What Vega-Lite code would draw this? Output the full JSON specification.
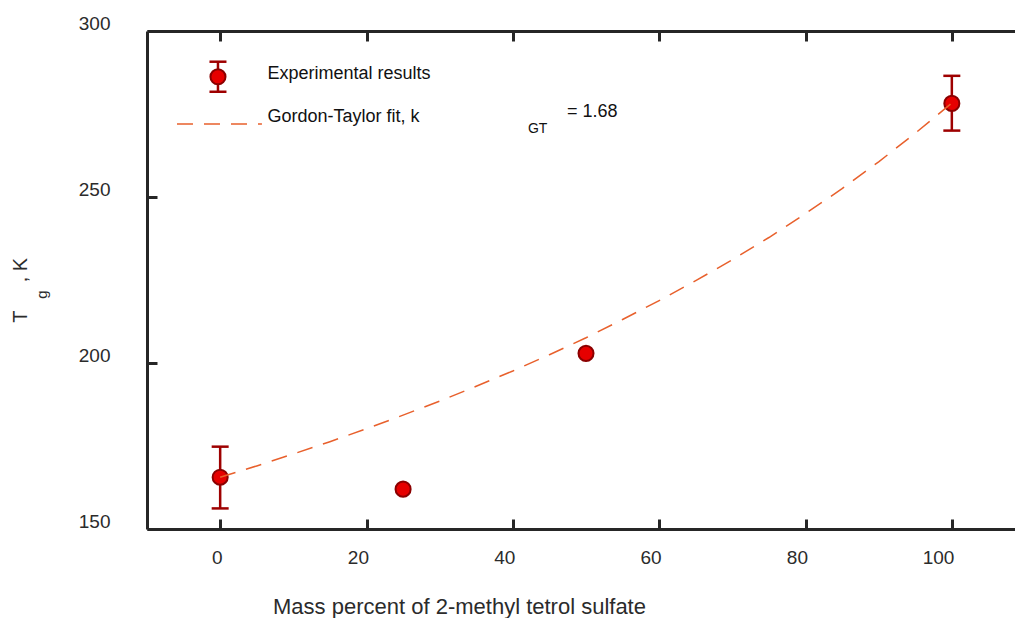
{
  "$schema": "https://vega.github.io/schema/vega-lite/v6.json",
  "width": 878,
  "height": 498,
  "autosize": {"type": "none"},
  "padding": {"left": 147, "top": 31, "right": 0, "bottom": 89},
  "background": "white",
  "config": {"view": {"stroke": null}, "font": "Liberation Sans"},
  "datasets": {
    "points": [
      {"pct": 0, "tg": 165.6, "lo": 156.2, "hi": 174.8},
      {"pct": 25, "tg": 162.0, "lo": null, "hi": null},
      {"pct": 50, "tg": 202.9, "lo": null, "hi": null},
      {"pct": 100, "tg": 278.2, "lo": 270.0, "hi": 286.5}
    ],
    "fit": [
      {"pct": 0, "tg": 165.6}, {"pct": 5, "tg": 169.0}, {"pct": 10, "tg": 172.6},
      {"pct": 15, "tg": 176.3}, {"pct": 20, "tg": 180.2}, {"pct": 25, "tg": 184.3},
      {"pct": 30, "tg": 188.5}, {"pct": 35, "tg": 193.0}, {"pct": 40, "tg": 197.6},
      {"pct": 45, "tg": 202.5}, {"pct": 50, "tg": 207.6}, {"pct": 55, "tg": 213.1},
      {"pct": 60, "tg": 218.8}, {"pct": 65, "tg": 224.8}, {"pct": 70, "tg": 231.1},
      {"pct": 75, "tg": 237.8}, {"pct": 80, "tg": 245.0}, {"pct": 85, "tg": 252.5},
      {"pct": 90, "tg": 260.6}, {"pct": 95, "tg": 269.2}, {"pct": 100, "tg": 278.3}
    ]
  },
  "layer": [
    {
      "data": {"name": "points"},
      "transform": [{"filter": "datum.lo != null"}],
      "mark": {"type": "rule", "color": "#9E0000", "strokeWidth": 2.5},
      "encoding": {
        "x": {"field": "pct", "type": "quantitative", "scale": {"domain": [-10, 110], "nice": false, "zero": false}, "axis": null},
        "y": {"field": "lo", "type": "quantitative", "scale": {"domain": [150, 300], "nice": false, "zero": false}, "axis": null},
        "y2": {"field": "hi"}
      }
    },
    {
      "data": {"name": "points"},
      "transform": [{"filter": "datum.lo != null"}],
      "mark": {"type": "tick", "orient": "horizontal", "color": "#9E0000", "size": 17, "thickness": 2.5, "opacity": 1},
      "encoding": {
        "x": {"field": "pct", "type": "quantitative", "scale": {"domain": [-10, 110], "nice": false, "zero": false}, "axis": null},
        "y": {"field": "lo", "type": "quantitative", "scale": {"domain": [150, 300], "nice": false, "zero": false}, "axis": null}
      }
    },
    {
      "data": {"name": "points"},
      "transform": [{"filter": "datum.lo != null"}],
      "mark": {"type": "tick", "orient": "horizontal", "color": "#9E0000", "size": 17, "thickness": 2.5, "opacity": 1},
      "encoding": {
        "x": {"field": "pct", "type": "quantitative", "scale": {"domain": [-10, 110], "nice": false, "zero": false}, "axis": null},
        "y": {"field": "hi", "type": "quantitative", "scale": {"domain": [150, 300], "nice": false, "zero": false}, "axis": null}
      }
    },
    {
      "data": {"name": "points"},
      "mark": {"type": "circle", "size": 227, "fill": "#E60000", "stroke": "#8B0000", "strokeWidth": 2, "opacity": 1},
      "encoding": {
        "x": {
          "field": "pct", "type": "quantitative",
          "scale": {"domain": [-10, 110], "nice": false, "zero": false},
          "axis": {
            "orient": "bottom", "values": [0, 20, 40, 60, 80, 100], "grid": false,
            "domainColor": "#262626", "domainWidth": 3,
            "tickColor": "#262626", "tickWidth": 3, "tickSize": -10,
            "labelFontSize": 19, "labelColor": "#2b2b2b", "labelPadding": 29.5,
            "labelAlign": "right", "labelOffset": 2, "labelBaseline": "top", "labelFlush": false,
            "title": "Mass percent of 2-methyl tetrol sulfate",
            "titleFontSize": 22, "titleFontWeight": "normal", "titleColor": "#2b2b2b",
            "titleX": 312, "titleY": 84, "titleAlign": "center", "titleBaseline": "alphabetic"
          }
        },
        "y": {
          "field": "tg", "type": "quantitative",
          "scale": {"domain": [150, 300], "nice": false, "zero": false},
          "axis": {
            "orient": "left", "values": [150, 200, 250, 300], "grid": false,
            "domainColor": "#262626", "domainWidth": 3,
            "tickColor": "#262626", "tickWidth": 3, "tickSize": -10,
            "labelFontSize": 19, "labelColor": "#2b2b2b", "labelPadding": 47,
            "labelBaseline": "alphabetic", "labelOffset": -2, "labelFlush": false,
            "title": null
          }
        }
      }
    },
    {
      "data": {"name": "fit"},
      "mark": {"type": "line", "color": "#E8602C", "strokeWidth": 1.5, "strokeDash": [16, 11]},
      "encoding": {
        "x": {
          "field": "pct", "type": "quantitative",
          "scale": {"domain": [-10, 110], "nice": false, "zero": false},
          "axis": {
            "orient": "top", "values": [0, 20, 40, 60, 80, 100], "grid": false, "labels": false,
            "domainColor": "#262626", "domainWidth": 3,
            "tickColor": "#262626", "tickWidth": 3, "tickSize": -10, "title": null
          }
        },
        "y": {
          "field": "tg", "type": "quantitative",
          "scale": {"domain": [150, 300], "nice": false, "zero": false},
          "axis": {
            "orient": "right", "values": [150, 200, 250, 300], "grid": false, "labels": false,
            "domainColor": "#262626", "domainWidth": 3,
            "tickColor": "#262626", "tickWidth": 3, "tickSize": -10, "title": null
          }
        }
      }
    },
    {
      "data": {"values": [{}]},
      "mark": {"type": "rule", "color": "#9E0000", "strokeWidth": 2.5},
      "encoding": {
        "x": {"datum": -0.3, "type": "quantitative", "scale": {"domain": [-10, 110], "nice": false, "zero": false}, "axis": null},
        "y": {"datum": 281.7, "type": "quantitative", "scale": {"domain": [150, 300], "nice": false, "zero": false}, "axis": null},
        "y2": {"datum": 290.75}
      }
    },
    {
      "data": {"values": [{}]},
      "mark": {"type": "tick", "orient": "horizontal", "color": "#9E0000", "size": 17, "thickness": 2.5, "opacity": 1},
      "encoding": {
        "x": {"datum": -0.3, "type": "quantitative", "scale": {"domain": [-10, 110], "nice": false, "zero": false}, "axis": null},
        "y": {"datum": 281.7, "type": "quantitative", "scale": {"domain": [150, 300], "nice": false, "zero": false}, "axis": null}
      }
    },
    {
      "data": {"values": [{}]},
      "mark": {"type": "tick", "orient": "horizontal", "color": "#9E0000", "size": 17, "thickness": 2.5, "opacity": 1},
      "encoding": {
        "x": {"datum": -0.3, "type": "quantitative", "scale": {"domain": [-10, 110], "nice": false, "zero": false}, "axis": null},
        "y": {"datum": 290.75, "type": "quantitative", "scale": {"domain": [150, 300], "nice": false, "zero": false}, "axis": null}
      }
    },
    {
      "data": {"values": [{}]},
      "mark": {"type": "circle", "size": 227, "fill": "#E60000", "stroke": "#8B0000", "strokeWidth": 2, "opacity": 1},
      "encoding": {
        "x": {"datum": -0.3, "type": "quantitative", "scale": {"domain": [-10, 110], "nice": false, "zero": false}, "axis": null},
        "y": {"datum": 286.2, "type": "quantitative", "scale": {"domain": [150, 300], "nice": false, "zero": false}, "axis": null}
      }
    },
    {
      "data": {"values": [{}]},
      "mark": {"type": "rule", "color": "#E8602C", "strokeWidth": 1.5, "strokeDash": [16, 11]},
      "encoding": {
        "x": {"datum": -5.9, "type": "quantitative", "scale": {"domain": [-10, 110], "nice": false, "zero": false}, "axis": null},
        "x2": {"datum": 5.71},
        "y": {"datum": 272.0, "type": "quantitative", "scale": {"domain": [150, 300], "nice": false, "zero": false}, "axis": null}
      }
    },
    {
      "data": {"values": [{}]},
      "mark": {"type": "text", "text": "Experimental results", "align": "left", "baseline": "alphabetic", "fontSize": 18, "color": "#111111"},
      "encoding": {
        "x": {"datum": 6.46, "type": "quantitative", "scale": {"domain": [-10, 110], "nice": false, "zero": false}, "axis": null},
        "y": {"datum": 285.45, "type": "quantitative", "scale": {"domain": [150, 300], "nice": false, "zero": false}, "axis": null}
      }
    },
    {
      "data": {"values": [{}]},
      "mark": {"type": "text", "text": "Gordon-Taylor fit, k", "align": "left", "baseline": "alphabetic", "fontSize": 18, "color": "#111111"},
      "encoding": {
        "x": {"datum": 6.46, "type": "quantitative", "scale": {"domain": [-10, 110], "nice": false, "zero": false}, "axis": null},
        "y": {"datum": 272.7, "type": "quantitative", "scale": {"domain": [150, 300], "nice": false, "zero": false}, "axis": null}
      }
    },
    {
      "data": {"values": [{}]},
      "mark": {"type": "text", "text": "GT", "align": "left", "baseline": "alphabetic", "fontSize": 14, "color": "#111111"},
      "encoding": {
        "x": {"datum": 42.07, "type": "quantitative", "scale": {"domain": [-10, 110], "nice": false, "zero": false}, "axis": null},
        "y": {"datum": 269.2, "type": "quantitative", "scale": {"domain": [150, 300], "nice": false, "zero": false}, "axis": null}
      }
    },
    {
      "data": {"values": [{}]},
      "mark": {"type": "text", "text": "= 1.68", "align": "left", "baseline": "alphabetic", "fontSize": 18, "color": "#111111"},
      "encoding": {
        "x": {"datum": 47.4, "type": "quantitative", "scale": {"domain": [-10, 110], "nice": false, "zero": false}, "axis": null},
        "y": {"datum": 274.2, "type": "quantitative", "scale": {"domain": [150, 300], "nice": false, "zero": false}, "axis": null}
      }
    },
    {
      "data": {"values": [{}]},
      "mark": {"type": "text", "text": "T", "align": "center", "baseline": "alphabetic", "angle": 270, "fontSize": 20, "color": "#2b2b2b"},
      "encoding": {
        "x": {"datum": -26.34, "type": "quantitative", "scale": {"domain": [-10, 110], "nice": false, "zero": false}, "axis": null},
        "y": {"datum": 214.0, "type": "quantitative", "scale": {"domain": [150, 300], "nice": false, "zero": false}, "axis": null}
      }
    },
    {
      "data": {"values": [{}]},
      "mark": {"type": "text", "text": "g", "align": "center", "baseline": "alphabetic", "angle": 270, "fontSize": 15, "color": "#2b2b2b"},
      "encoding": {
        "x": {"datum": -23.7, "type": "quantitative", "scale": {"domain": [-10, 110], "nice": false, "zero": false}, "axis": null},
        "y": {"datum": 220.6, "type": "quantitative", "scale": {"domain": [150, 300], "nice": false, "zero": false}, "axis": null}
      }
    },
    {
      "data": {"values": [{}]},
      "mark": {"type": "text", "text": ", K", "align": "center", "baseline": "alphabetic", "angle": 270, "fontSize": 20, "color": "#2b2b2b"},
      "encoding": {
        "x": {"datum": -26.34, "type": "quantitative", "scale": {"domain": [-10, 110], "nice": false, "zero": false}, "axis": null},
        "y": {"datum": 228.0, "type": "quantitative", "scale": {"domain": [150, 300], "nice": false, "zero": false}, "axis": null}
      }
    }
  ],
  "resolve": {"axis": {"x": "independent", "y": "independent"}}
}
